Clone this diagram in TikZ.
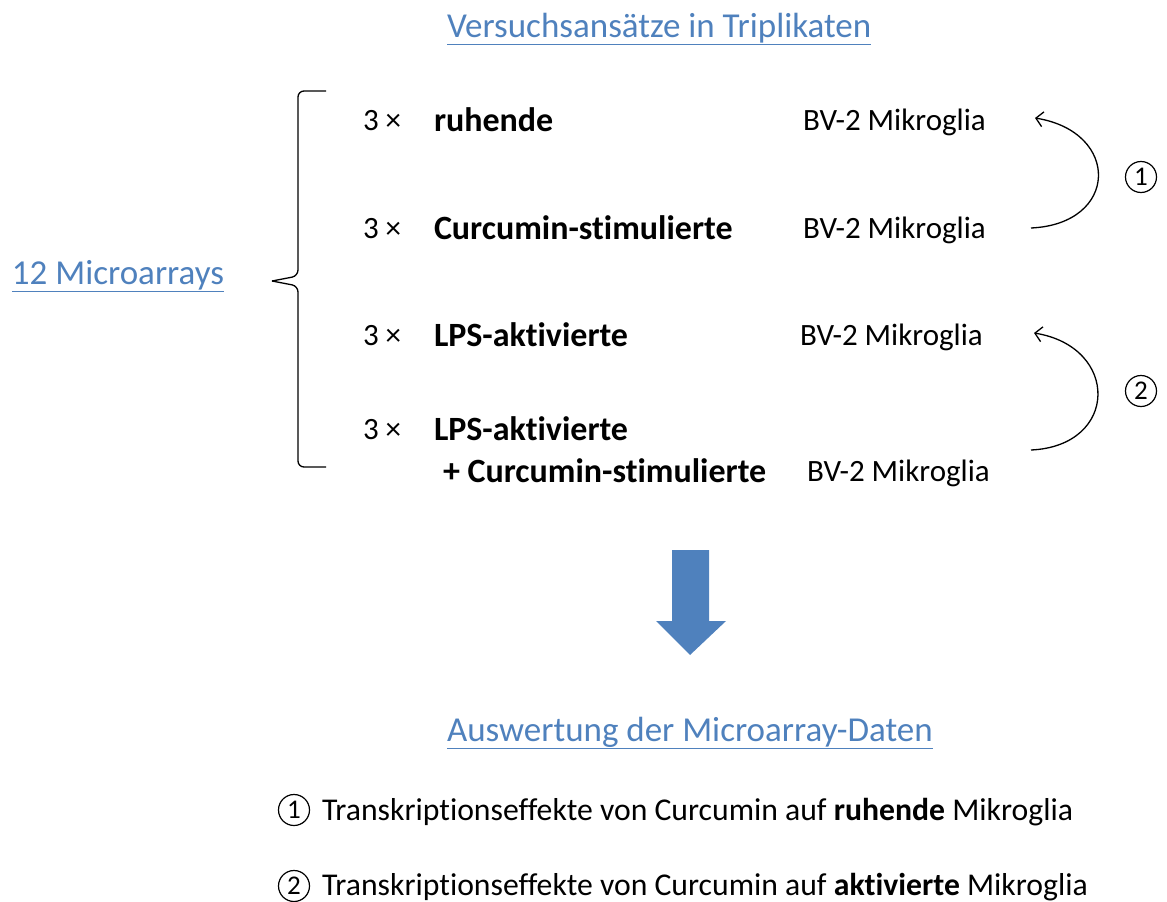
\documentclass[tikz,border=0pt]{standalone}
\usepackage{fontspec}
\setmainfont{Carlito}[Ligatures=NoCommon]
\usetikzlibrary{arrows.meta}
\definecolor{linkblue}{HTML}{4F81BD}
\definecolor{arrowblue}{HTML}{4F81BD}

\tikzset{
	txt/.style={font=\fontsize{31}{36}\selectfont, anchor=base west, inner sep=0, outer sep=0},
	restxt/.style={txt, font=\fontsize{31.7}{36}\selectfont},
	bftxt/.style={txt, font=\fontsize{34}{40}\selectfont\bfseries},
	headtxt/.style={txt, font=\fontsize{35}{42}\selectfont, text=linkblue},
	numcirc/.style={draw, circle, line width=1.2pt, inner sep=0, minimum size=31pt, font=\fontsize{27}{30}\selectfont},
	loopar/.style={line width=1.3pt, -{Straight Barb[length=7pt,width=15pt]}},
}

\begin{document}
\begin{tikzpicture}[x=1pt,y=-1pt]
	\useasboundingbox (0,0) rectangle (1167,902);
	% headings
	\node[headtxt] (title) at (447,37) {\underline{Versuchsansätze in Triplikaten}};
	\node[headtxt] (total) at (12,284) {\underline{12 Microarrays}};
	\node[headtxt] (eval) at (447,741) {\underline{Auswertung der Microarray-Daten}};
	% brace
	\coordinate (tip) at (272,281);
	\draw[line width=1.3pt, rounded corners=6pt] (326,91) -| (298,276) -- (tip);
	\draw[line width=1.3pt, rounded corners=6pt] (326,467) -| (298,286) -- (tip);
	% groups
	\node[txt] (n1) at (363,130) {3 ×};
	\node[txt] (n2) at (363,238) {3 ×};
	\node[txt] (n3) at (363,345) {3 ×};
	\node[txt] (n4) at (363,439) {3 ×};
	\node[bftxt] (g1) at (434,131) {ruhende};
	\node[bftxt] (g2) at (434,239) {Curcumin-stimulierte};
	\node[bftxt] (g3) at (434,346) {LPS-aktivierte};
	\node[bftxt] (g4) at (434,440) {LPS-aktivierte};
	\node[bftxt] (g4b) at (443,482) {+ Curcumin-stimulierte};
	\node[txt] (m1) at (803,130) {BV-2 Mikroglia};
	\node[txt] (m2) at (803,238) {BV-2 Mikroglia};
	\node[txt] (m3) at (800,345) {BV-2 Mikroglia};
	\node[txt] (m4) at (807,481) {BV-2 Mikroglia};
	% comparisons
	\coordinate (c1s) at (1031,228);
	\coordinate (c1e) at (1035,118);
	\coordinate (c2s) at (1031,450);
	\coordinate (c2e) at (1034,333);
	\draw[loopar] (c1s) .. controls +(88,-4) and +(86,14) .. (c1e);
	\draw[loopar] (c2s) .. controls +(88,-4) and +(86,14) .. (c2e);
	\node[numcirc] (k1) at (1141,177) {1};
	\node[numcirc] (k2) at (1141,391) {2};
	% big arrow
	\fill[arrowblue] (672,550) -- (709,550) -- (709,621) -- (726,621) -- (690,655)
		-- (656,621) -- (672,621) -- cycle;
	% results
	\node[numcirc] (r1) at (294,810) {1};
	\node[numcirc] (r2) at (294,886) {2};
	\node[restxt] (e1) at (322,820) {Transkriptionseffekte von Curcumin auf \textbf{ruhende} Mikroglia};
	\node[restxt] (e2) at (322,895) {Transkriptionseffekte von Curcumin auf \textbf{aktivierte} Mikroglia};
\end{tikzpicture}
\end{document}
